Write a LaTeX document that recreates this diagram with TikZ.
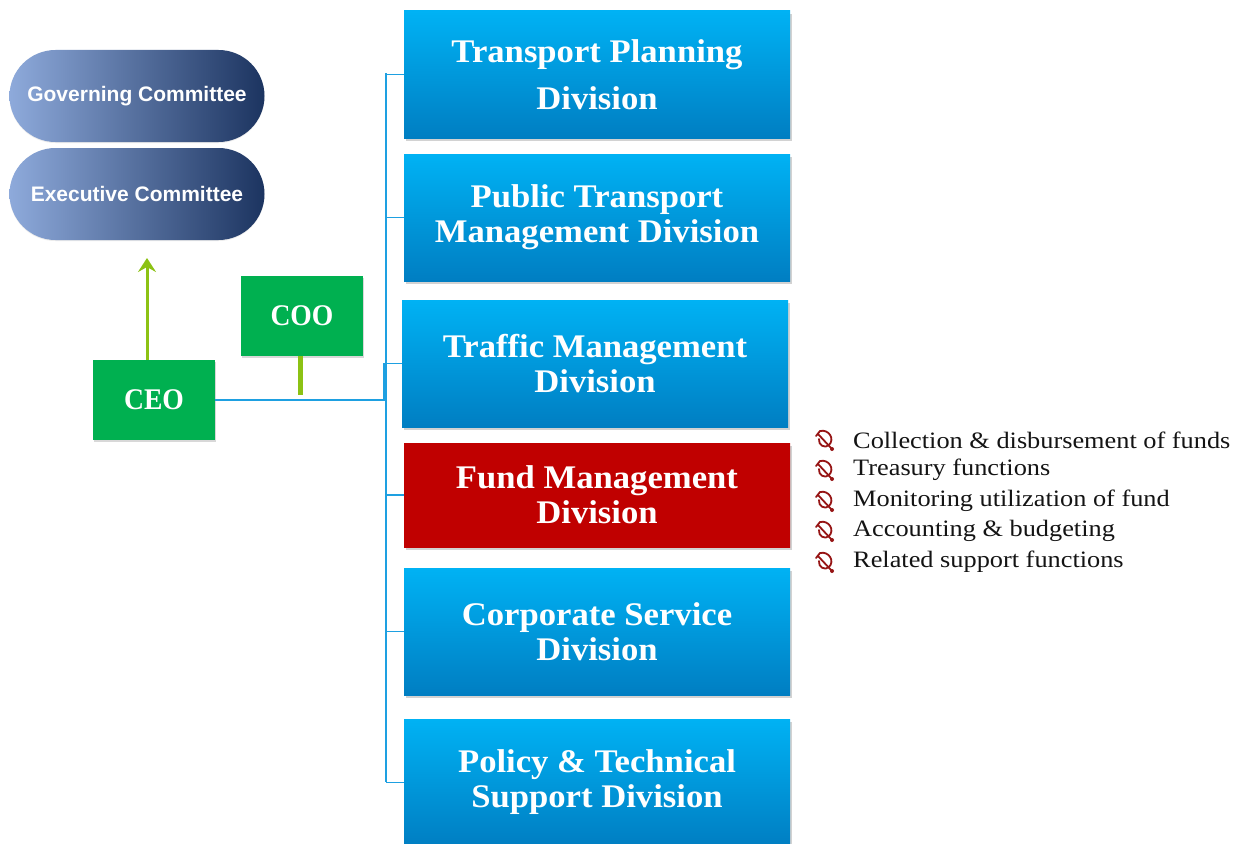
\documentclass[tikz,border=0pt]{standalone}
\usepackage{fontspec}
\setmainfont{Liberation Serif}
\newfontfamily\divfont[FakeStretch=1.05]{Liberation Serif}
\newfontfamily\listfont[FakeStretch=1.12]{Liberation Serif}
\newfontfamily\greenfont[FakeStretch=0.92]{Liberation Serif}
\newfontfamily\arialfont{Liberation Sans}
\usetikzlibrary{shadows,arrows.meta,calc}
\definecolor{bluetop}{RGB}{0,178,244}
\definecolor{bluebot}{RGB}{0,126,194}
\definecolor{fundred}{RGB}{192,0,0}
\definecolor{ceogreen}{RGB}{0,176,80}
\definecolor{arrowgreen}{RGB}{140,194,20}
\definecolor{linkblue}{RGB}{30,160,225}
\definecolor{pillleft}{RGB}{142,170,219}
\definecolor{pillright}{RGB}{28,52,96}
\definecolor{bulletred}{RGB}{150,20,20}
\definecolor{listtext}{RGB}{20,20,20}
\tikzset{
  divbox/.style={rectangle, minimum width=386pt, minimum height=127pt, inner sep=0pt,
    top color=bluetop, bottom color=bluebot, text=white, align=center,
    font=\divfont\bfseries\fontsize{33}{35}\selectfont,
    drop shadow={shadow xshift=1.5pt, shadow yshift=-3pt, opacity=0.35}},
  fundbox/.style={divbox, top color=fundred, bottom color=fundred, minimum height=104pt},
  greenbox/.style={rectangle, fill=ceogreen, minimum width=122pt, minimum height=80pt,
    inner sep=0pt, text=white, font=\greenfont\bfseries\fontsize{30}{35}\selectfont,
    drop shadow={shadow xshift=1pt, shadow yshift=-2pt, opacity=0.3}},
  pill/.style={rectangle, rounded corners=46pt, minimum width=255pt, minimum height=92pt,
    inner sep=0pt, left color=pillleft, right color=pillright, text=white,
    font=\arialfont\bfseries\fontsize{21}{24}\selectfont,
    drop shadow={shadow xshift=0pt, shadow yshift=-1pt, opacity=0.15}},
  link/.style={draw=linkblue, line width=1.4pt},
  bullettext/.style={anchor=west, inner sep=0pt, text=listtext,
    font=\listfont\fontsize{23.5}{26}\selectfont},
  bowicon/.pic={
    \begin{scope}[bulletred, line width=1.8pt, line cap=round, line join=round]
      \draw (-9,-4) -- (-5,-9);
      \draw (-5,-9) .. controls (4,-11) and (10,-1) .. (4,5)
        .. controls (0,9) and (-7,5) .. (-6,-1);
      \draw (-7,-6) -- (6,8);
      \fill (7,9) circle (2pt);
    \end{scope}
  }
}
\begin{document}
\begin{tikzpicture}[x=1pt,y=-1pt]
\clip (0,0) rectangle (1239,843);
\fill[white] (0,0) rectangle (1239,843);
% committees
\node[pill] (gov) at (137,96) {Governing Committee};
\node[pill] (exe) at (137,194) {Executive Committee};
% CEO / COO
\node[greenbox] (ceo) at (154,400) {CEO};
\node[greenbox] (coo) at (302,316) {COO};
% divisions
\node[divbox] (d1) at (597,74.5) {Transport Planning\\[12pt]Division};
\node[divbox] (d2) at (597,217.5) {Public Transport\\Management Division};
\node[divbox] (d3) at (595,363.5) {Traffic Management\\Division};
\node[fundbox] (d4) at (597,495) {Fund Management\\Division};
\node[divbox] (d5) at (597,631.5) {Corporate Service\\Division};
\node[divbox] (d6) at (597,782.5) {Policy \& Technical\\Support Division};
% connectors
\coordinate (bus) at (386,400);
\coordinate (bustop) at (386,73);
\coordinate (busbot) at (386,782);
\coordinate (stub) at (384,400);
\draw[link] (ceo.east) -- (bus);
\draw[link] (bustop) -- (busbot);
\foreach \d in {d1,d2,d4,d5,d6} {
  \draw[link] (bus |- \d.west) -- (\d.west);
}
\draw[link] (stub) -- (stub |- d3.west) -- (d3.west);
\coordinate (arrowtip) at (147,258);
\draw[arrowgreen, line width=3pt, -{Stealth[length=14pt,width=18pt,inset=5pt]}]
  (ceo.north -| arrowtip) -- (arrowtip);
\coordinate (cooend) at (300,395);
\draw[arrowgreen, line width=5pt] (coo.south -| cooend) -- (cooend);
% bullets
\foreach \y/\t/\n in {440/{Collection \& disbursement of funds}/b1,
                       470/{Treasury functions}/b2,
                       501/{Monitoring utilization of fund}/b3,
                       531/{Accounting \& budgeting}/b4,
                       562/{Related support functions}/b5} {
  \pic at (825,\y) {bowicon};
  \node[bullettext] (\n) at (853,\y) {\t};
}
\end{tikzpicture}
\end{document}
